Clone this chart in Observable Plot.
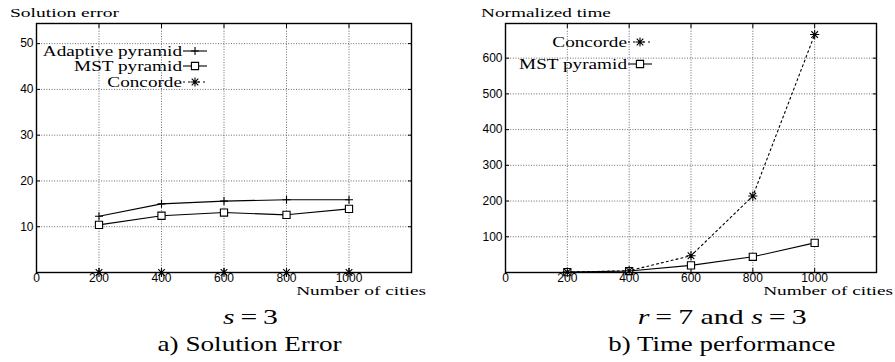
<!DOCTYPE html>
<html>
<head>
<meta charset="utf-8">
<script src="https://cdn.jsdelivr.net/npm/d3@7"></script>
<script src="https://cdn.jsdelivr.net/npm/@observablehq/plot@0.6"></script>
<style>
  html, body { margin: 0; padding: 0; background: #fff; }
  #wrap { position: relative; width: 895px; height: 362px; overflow: hidden; }
  .panel { position: absolute; top: 0; }
  .cap { position: absolute; color: #000; white-space: nowrap; text-align: center; line-height: 1; font-family: 'Liberation Serif'; font-size: 22px; }
  .cap span.fit { display: inline-block; transform-origin: 50% 50%; }
</style>
</head>
<body>
<div id="wrap">
  <div id="a" class="panel" style="left:0px"></div>
  <div id="b" class="panel" style="left:445px"></div>
  <div class="cap" style="left:150px; width:200px; top:306px;"><span class="fit" data-w="55"><i>s</i>&#8201;=&#8201;3</span></div>
  <div class="cap" style="left:150px; width:200px; top:333px;"><span class="fit" data-w="184">a) Solution Error</span></div>
  <div class="cap" style="left:612px; width:220px; top:306px;"><span class="fit" data-w="169"><i>r</i>&#8201;=&#8201;7 and <i>s</i>&#8201;=&#8201;3</span></div>
  <div class="cap" style="left:592px; width:260px; top:333px;"><span class="fit" data-w="227">b) Time performance</span></div>
</div>
<script>
// ---- data ----
const cities = [200, 400, 600, 800, 1000];
const errAdaptive = [12.3, 15.0, 15.6, 15.9, 15.9];
const errMST = [10.4, 12.4, 13.1, 12.6, 13.9];
const errConcorde = [0, 0, 0, 0, 0];
const timeConcorde = [1, 5, 47, 214, 666];
const timeMST = [1, 4, 20, 44, 83];
const xLabelTicks = [0, 200, 400, 600, 800, 1000];
const xGridTicks = [200, 400, 600, 800, 1000];
const yTicksA = [10, 20, 30, 40, 50];
const yTicksB = [100, 200, 300, 400, 500, 600];
const legendA = ["Adaptive pyramid", "MST pyramid", "Concorde"];
const legendB = ["Concorde", "MST pyramid"];

// ---- symbols ----
const sym = {
  plus: {draw(c, size) { const r = Math.sqrt(size / Math.PI); c.moveTo(-r, 0); c.lineTo(r, 0); c.moveTo(0, -r); c.lineTo(0, r); }},
  square: {draw(c, size) { const r = Math.sqrt(size / Math.PI); c.rect(-r, -r, 2 * r, 2 * r); }},
  star: {draw(c, size) { const r = Math.sqrt(size / Math.PI); const d = r * 0.72;
    c.moveTo(-r, 0); c.lineTo(r, 0); c.moveTo(0, -r); c.lineTo(0, r);
    c.moveTo(-d, -d); c.lineTo(d, d); c.moveTo(-d, d); c.lineTo(d, -d); }}
};
const styleFor = {
  "Adaptive pyramid": {symbol: sym.plus, r: 4, fill: "none", dash: null},
  "MST pyramid": {symbol: sym.square, r: 3.6, fill: "white", dash: null},
  "Concorde": {symbol: sym.star, r: 4.6, fill: "none", dash: "2,3"}
};

function rows(values, series) { return cities.map((c, i) => ({x: c, y: values[i], s: series})); }

const SERIF = "'Liberation Serif'";

// horizontally scaled serif text (width-fitted), anchored at (x, y)
function serifText(g, x, y, str, size, anchor, scale) {
  const t = g.append("text")
    .attr("transform", `translate(${x},${y}) scale(${scale},1)`)
    .attr("text-anchor", anchor)
    .style("font-family", SERIF).style("font-size", size + "px")
    .attr("fill", "black").text(str);
  return t;
}
function fitScale(g, str, size, target) {
  const t = g.append("text").style("font-family", SERIF).style("font-size", size + "px").text(str);
  const w = t.node().getComputedTextLength();
  t.remove();
  return w > 0 ? target / w : 1.3;
}

function panel(container, {width, marginLeft, marginRight, yDomain, yTicks, series, title, legend, legendYs}) {
  const H = 300;
  const marks = [
    Plot.gridX(xGridTicks, {stroke: "#444", strokeOpacity: 1, strokeWidth: 0.8, strokeDasharray: "1,1.6"}),
    Plot.gridY(yTicks, {stroke: "#444", strokeOpacity: 1, strokeWidth: 0.8, strokeDasharray: "1,1.6"}),
    Plot.axisX({ticks: xLabelTicks, tickSize: 0, tickPadding: 1, tickFormat: d => String(d), label: null}),
    Plot.axisY({ticks: yTicks, tickSize: 0, tickPadding: 3, tickFormat: d => String(d), label: null}),
    Plot.axisX({anchor: "top", ticks: xGridTicks, tickSize: -4, tickFormat: () => "", label: null}),
    Plot.axisX({anchor: "bottom", ticks: xGridTicks, tickSize: -4, tickFormat: () => "", label: null}),
    Plot.axisY({anchor: "left", ticks: yTicks, tickSize: -4, tickFormat: () => "", label: null}),
    Plot.axisY({anchor: "right", ticks: yTicks, tickSize: -4, tickFormat: () => "", label: null})
  ];
  for (const [name, vals] of series) {
    const st = styleFor[name];
    marks.push(Plot.line(rows(vals, name), {x: "x", y: "y", stroke: "black", strokeWidth: 1.1, strokeDasharray: st.dash}));
  }
  for (const [name, vals] of series) {
    const st = styleFor[name];
    marks.push(Plot.dot(rows(vals, name), {x: "x", y: "y", symbol: st.symbol, r: st.r, stroke: "black", strokeWidth: 1.1, fill: st.fill}));
  }
  marks.push(Plot.frame({stroke: "black", strokeWidth: 1.4}));

  const svg = Plot.plot({
    width, height: H,
    marginLeft, marginRight, marginTop: 23, marginBottom: 28,
    x: {domain: [0, 1200]},
    y: {domain: yDomain},
    style: {fontFamily: "'Liberation Sans'", fontSize: "12px", background: "white", color: "black", overflow: "visible"},
    marks
  });
  container.append(svg);

  const g = d3.select(svg).append("g");
  // axis titles
  const sTitle = fitScale(g, title.text, 13, title.w);
  serifText(g, title.x, 17, title.text, 13, "start", sTitle);
  const sCities = fitScale(g, "Number of cities", 12.5, 130);
  serifText(g, width - marginRight + title.nx, 295, "Number of cities", 12.5, "end", sCities);

  // legend
  const sLeg = fitScale(g, "MST pyramid", 14, 108);
  legend.forEach((name, i) => {
    const st = styleFor[name];
    const y = legendYs[i];
    serifText(g, 182, y + 4.5, name, 14, "end", sLeg);
    g.append("line").attr("x1", 183).attr("x2", 207).attr("y1", y).attr("y2", y)
      .attr("stroke", "black").attr("stroke-width", 1.1).attr("stroke-dasharray", st.dash);
    g.append("path").attr("transform", `translate(195,${y})`)
      .attr("d", d3.symbol(st.symbol, Math.PI * st.r * st.r)())
      .attr("stroke", "black").attr("stroke-width", 1.1).attr("fill", st.fill);
  });
}

panel(document.getElementById("a"), {
  width: 445, marginLeft: 36, marginRight: 34,
  yDomain: [0, 54.4], yTicks: yTicksA,
  series: [["Adaptive pyramid", errAdaptive], ["MST pyramid", errMST], ["Concorde", errConcorde]],
  title: {x: 10, text: "Solution error", nx: 15, w: 109},
  legend: legendA, legendYs: [51, 66, 82]
});

panel(document.getElementById("b"), {
  width: 450, marginLeft: 60, marginRight: 19,
  yDomain: [0, 697], yTicks: yTicksB,
  series: [["MST pyramid", timeMST], ["Concorde", timeConcorde]],
  title: {x: 36, text: "Normalized time", nx: 17, w: 130},
  legend: legendB, legendYs: [42, 64]
});

// width-fit captions
document.querySelectorAll(".cap span.fit").forEach(el => {
  const w = el.getBoundingClientRect().width;
  const target = +el.dataset.w;
  if (w > 0) el.style.transform = `scaleX(${target / w})`;
});
</script>
</body>
</html>
